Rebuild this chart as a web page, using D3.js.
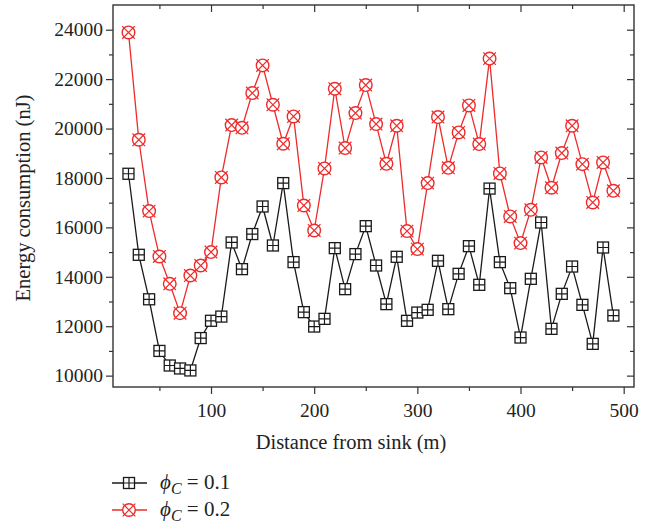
<!DOCTYPE html>
<html>
<head>
<meta charset="utf-8">
<script src="https://cdn.jsdelivr.net/npm/d3@7"></script>
<style>
  body { margin: 0; background: #fff; }
  svg text { font-family: "Liberation Serif", "Times New Roman", serif; fill: #222; }
</style>
</head>
<body>
<div id="chart"></div>
<script>
// ------------- Data ----------------- //
const distances = [20, 30, 40, 50, 60, 70, 80, 90, 100, 110, 120, 130, 140, 150, 160, 170, 180, 190, 200,
  210, 220, 230, 240, 250, 260, 270, 280, 290, 300, 310, 320, 330, 340, 350, 360, 370, 380, 390, 400,
  410, 420, 430, 440, 450, 460, 470, 480, 490];

const phi01 = [18170, 14890, 13090, 11000, 10410, 10290, 10210, 11520, 12220, 12390, 15390, 14310,
  15730, 16846, 15267, 17792, 14594, 12570, 11987, 12298, 15160, 13500, 14918, 16050, 14457, 12894,
  14809, 12217, 12553, 12663, 14647, 12690, 14120, 15240, 13675, 17570, 14594, 13541, 11542, 13918,
  16198, 11894, 13310, 14416, 12865, 11286, 15186, 12432];

const phi02 = [23890, 19546, 16658, 14822, 13715, 12528, 14052, 14457, 15000, 18020, 20140, 20030,
  21437, 22555, 20963, 19384, 20490, 16886, 15874, 18385, 21611, 19210, 20626, 21760, 20180, 18574,
  20113, 15849, 15120, 17792, 20465, 18412, 19842, 20935, 19372, 22830, 18182, 16442, 15363, 16712,
  18830, 17603, 19007, 20113, 18560, 17007, 18628, 17481];

const xMajor = [100, 200, 300, 400, 500];
const xMinor = [50, 150, 250, 350, 450];
const yMajor = [10000, 12000, 14000, 16000, 18000, 20000, 22000, 24000];
const yMinor = [11000, 13000, 15000, 17000, 19000, 21000, 23000];

const seriesLabels = ['0.1', '0.2'];

// ------------- Layout ----------------- //
const W = 659, H = 524;
const box = { left: 113, right: 634, top: 5, bottom: 387 };
const tickFont = 19.5;
const titleFont = 20.5;
const black = '#1a1a1a';
const red = '#ee2b2b';

const svg = d3.select('#chart')
  .append('svg')
  .attr('width', W)
  .attr('height', H);

const x = d3.scaleLinear().domain([5, 510]).range([box.left, box.right]);
const y = d3.scaleLinear().domain([9540, 25000]).range([box.bottom, box.top]);

// axes: labelled ones point outwards, mirrored ones point inwards
function addAxis(axisFn, scale, values, size, translate, labels) {
  const g = svg.append('g')
    .attr('transform', translate)
    .call(axisFn(scale).tickValues(values).tickSize(size).tickSizeOuter(0)
      .tickFormat(labels ? d3.format('d') : ''));
  g.select('.domain').remove();
  g.selectAll('.tick line').attr('stroke', '#333').attr('stroke-width', 1.2);
  g.selectAll('.tick text')
    .attr('font-size', tickFont)
    .attr('font-family', '"Liberation Serif", serif')
    .attr('fill', '#222');
  return g;
}

const left = addAxis(d3.axisLeft, y, yMajor, 7, `translate(${box.left},0)`, true);
left.selectAll('.tick text').attr('x', -10);
addAxis(d3.axisLeft, y, yMinor, 4, `translate(${box.left},0)`, false);
addAxis(d3.axisLeft, y, yMajor, 7, `translate(${box.right},0)`, false);
addAxis(d3.axisLeft, y, yMinor, 4, `translate(${box.right},0)`, false);

const bottom = addAxis(d3.axisBottom, x, xMajor, 7, `translate(0,${box.bottom})`, true);
bottom.selectAll('.tick text').attr('y', 16);
addAxis(d3.axisBottom, x, xMinor, 4, `translate(0,${box.bottom})`, false);
addAxis(d3.axisBottom, x, xMajor, 7, `translate(0,${box.top})`, false);
addAxis(d3.axisBottom, x, xMinor, 4, `translate(0,${box.top})`, false);

// frame
svg.append('rect')
  .attr('x', box.left)
  .attr('y', box.top)
  .attr('width', box.right - box.left)
  .attr('height', box.bottom - box.top)
  .attr('fill', 'none')
  .attr('stroke', '#333')
  .attr('stroke-width', 1.4);

// markers
function squarePlus(g, color) {
  g.append('rect').attr('x', -5.5).attr('y', -5.5).attr('width', 11).attr('height', 11)
    .attr('fill', '#fff').attr('stroke', color).attr('stroke-width', 1.3);
  g.append('path').attr('d', 'M0,-5.5V5.5M-5.5,0H5.5')
    .attr('stroke', color).attr('stroke-width', 1.2);
}

function circleCross(g, color) {
  g.append('circle').attr('r', 6.3)
    .attr('fill', '#fff').attr('stroke', color).attr('stroke-width', 1.4);
  g.append('path').attr('d', 'M-6.3,-6.3L6.3,6.3M-6.3,6.3L6.3,-6.3')
    .attr('stroke', color).attr('stroke-width', 1.2);
}

const series = [
  { values: phi01, color: black, marker: squarePlus },
  { values: phi02, color: red, marker: circleCross }
];

const line = d3.line()
  .x((d, i) => x(distances[i]))
  .y(d => y(d));

series.forEach(s => {
  svg.append('path')
    .datum(s.values)
    .attr('fill', 'none')
    .attr('stroke', s.color)
    .attr('stroke-width', 1.3)
    .attr('d', line);

  svg.append('g')
    .selectAll('g')
    .data(s.values)
    .join('g')
    .attr('transform', (d, i) => `translate(${x(distances[i])},${y(d)})`)
    .each(function () { s.marker(d3.select(this), s.color); });
});

// axis titles
svg.append('text')
  .attr('x', 351)
  .attr('y', 449)
  .attr('text-anchor', 'middle')
  .attr('font-size', titleFont)
  .text('Distance from sink (m)');

svg.append('text')
  .attr('transform', 'translate(30,198) rotate(-90)')
  .attr('text-anchor', 'middle')
  .attr('font-size', titleFont)
  .text('Energy consumption (nJ)');

// legend
series.forEach((s, i) => {
  const ly = 483 + i * 27;
  const g = svg.append('g').attr('transform', `translate(0,${ly})`);
  g.append('line')
    .attr('x1', 112).attr('x2', 147)
    .attr('stroke', s.color).attr('stroke-width', 1.3);
  const m = g.append('g').attr('transform', 'translate(129,0)');
  s.marker(m, s.color);
  const t = g.append('text')
    .attr('x', 160)
    .attr('y', 6)
    .attr('font-size', 21);
  t.append('tspan').attr('font-style', 'italic').text('ϕ');
  t.append('tspan').attr('font-style', 'italic').attr('font-size', 16).attr('dy', 5).text('C');
  t.append('tspan').attr('dy', -5).text(' = ' + seriesLabels[i]);
});
</script>
</body>
</html>
